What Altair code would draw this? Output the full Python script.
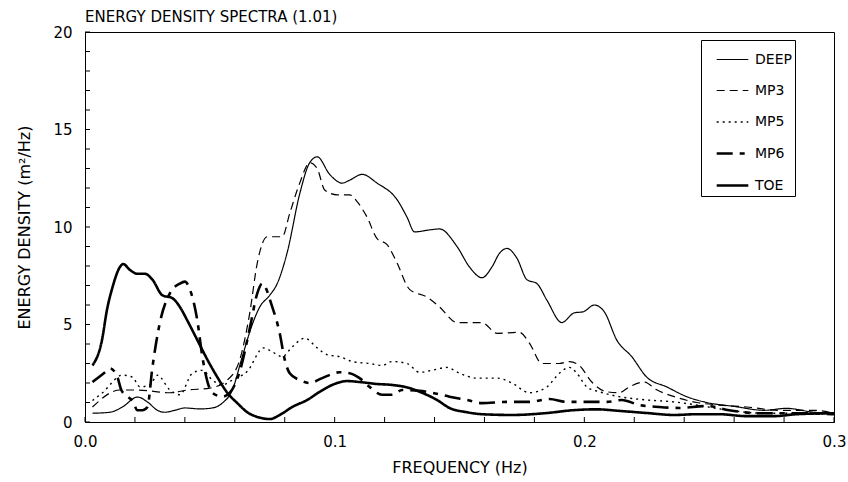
import altair as alt
import pandas as pd

FONT = "DejaVu Sans"

series_names = ["DEEP", "MP3", "MP5", "MP6", "TOE"]

deep_f = [0.003, 0.010, 0.015, 0.021, 0.025, 0.029, 0.032, 0.036, 0.040, 0.046, 0.051, 0.055, 0.059, 0.063,
          0.067, 0.070, 0.074, 0.077, 0.081, 0.086, 0.090, 0.093, 0.098, 0.103, 0.106, 0.111, 0.117, 0.125,
          0.129, 0.132, 0.138, 0.142, 0.149, 0.154, 0.159, 0.163, 0.166, 0.169, 0.173, 0.177, 0.181, 0.185,
          0.191, 0.196, 0.1995, 0.204, 0.208, 0.213, 0.219, 0.225, 0.233, 0.241, 0.249, 0.260, 0.272, 0.281,
          0.292, 0.300]
deep_v = [0.45, 0.5, 0.77, 1.28, 1.03, 0.6, 0.5, 0.6, 0.72, 0.67, 0.72, 0.97, 1.64, 3.35,
          5.0, 5.9, 6.5, 7.1, 8.7, 11.7, 13.3, 13.6, 12.7, 12.25, 12.4, 12.7, 12.25, 11.4,
          10.5, 9.75, 9.85, 9.9, 9.0, 7.95, 7.4, 7.95, 8.65, 8.9, 8.4, 7.3, 7.1, 6.25,
          5.1, 5.6, 5.65, 6.0, 5.65, 4.2, 3.35, 2.3, 1.8, 1.3, 1.0, 0.8, 0.6, 0.7,
          0.5, 0.45]

mp3_f = [0.003, 0.014, 0.021, 0.034, 0.041, 0.050, 0.057, 0.062, 0.066, 0.069, 0.073, 0.079, 0.082, 0.086,
         0.090, 0.093, 0.096, 0.101, 0.106, 0.109, 0.113, 0.117, 0.121, 0.125, 0.130, 0.137, 0.142, 0.149,
         0.159, 0.165, 0.174, 0.178, 0.183, 0.190, 0.194, 0.198, 0.203, 0.209, 0.214, 0.218, 0.224, 0.229,
         0.236, 0.245, 0.254, 0.265, 0.278, 0.292, 0.300]
mp3_v = [0.77, 1.64, 1.64, 1.5, 1.64, 1.74, 2.15, 3.2, 5.6, 8.15, 9.5, 9.5, 10.7, 12.25,
         13.3, 13.0, 11.9, 11.65, 11.65, 11.3, 10.5, 9.4, 9.1, 8.15, 6.8, 6.4, 5.9, 5.1,
         5.1, 4.55, 4.6, 4.05, 3.0, 3.0, 3.1, 2.9, 2.05, 1.55, 1.5, 1.8, 2.05, 1.65,
         1.3, 1.0, 0.87, 0.77, 0.6, 0.6, 0.45]

mp5_f = [0.003, 0.007, 0.015, 0.019, 0.022, 0.026, 0.029, 0.034, 0.038, 0.043, 0.047, 0.051, 0.055, 0.059,
         0.065, 0.0715, 0.075, 0.079, 0.083, 0.088, 0.093, 0.097, 0.102, 0.107, 0.114, 0.119, 0.123, 0.129,
         0.134, 0.139, 0.145, 0.150, 0.157, 0.165, 0.171, 0.178, 0.185, 0.190, 0.194, 0.197, 0.201, 0.206,
         0.214, 0.225, 0.236, 0.245, 0.258, 0.272, 0.285, 0.300]
mp5_v = [1.1, 1.5, 2.4, 2.3, 1.8, 1.9, 2.4, 1.64, 1.4, 2.5, 2.65, 2.15, 1.9, 2.15,
         2.6, 3.8, 3.6, 3.35, 3.85, 4.3, 3.8, 3.45, 3.35, 3.1, 3.0, 2.9, 3.1, 3.0,
         2.55, 2.65, 2.8, 2.5, 2.25, 2.25, 2.0, 1.5, 1.8, 2.5, 2.8, 2.5, 1.8, 1.55,
         1.3, 1.13, 1.03, 0.87, 0.6, 0.45, 0.45, 0.4]

mp6_f = [0.003, 0.009, 0.010, 0.013, 0.0145, 0.017, 0.019, 0.021, 0.023, 0.025, 0.027, 0.030, 0.034, 0.038,
         0.040, 0.042, 0.045, 0.047, 0.051, 0.055, 0.058, 0.062, 0.066, 0.069, 0.071, 0.075, 0.078, 0.080,
         0.082, 0.086, 0.090, 0.095, 0.102, 0.106, 0.110, 0.114, 0.119, 0.123, 0.127, 0.134, 0.139, 0.146,
         0.153, 0.159, 0.169, 0.178, 0.186, 0.193, 0.201, 0.209, 0.215, 0.222, 0.230, 0.238, 0.249, 0.258,
         0.270, 0.285, 0.300]
mp6_v = [2.05, 2.65, 2.75, 2.3, 1.65, 1.3, 1.1, 0.6, 0.6, 0.77, 2.8, 5.1, 6.6, 7.1,
         7.2, 6.8, 5.2, 3.35, 1.5, 1.3, 1.5, 2.6, 4.8, 6.6, 7.1, 5.9, 4.55, 3.2,
         2.5, 2.15, 2.0, 2.25, 2.55, 2.5, 2.25, 1.8, 1.4, 1.4, 1.64, 1.6, 1.5, 1.3,
         1.13, 0.97, 1.03, 1.03, 1.18, 1.03, 1.03, 1.03, 1.13, 0.87, 0.77, 0.72, 0.82, 0.6,
         0.45, 0.45, 0.4]

toe_f = [0.003, 0.0068, 0.0088, 0.011, 0.014, 0.0153, 0.018, 0.021, 0.024, 0.027, 0.031, 0.035, 0.038, 0.041,
         0.045, 0.049, 0.053, 0.057, 0.061, 0.065, 0.069, 0.074, 0.078, 0.083, 0.089, 0.094, 0.099, 0.105,
         0.110, 0.117, 0.123, 0.130, 0.135, 0.141, 0.146, 0.153, 0.159, 0.171, 0.185, 0.195, 0.205, 0.214,
         0.225, 0.236, 0.245, 0.254, 0.265, 0.276, 0.285, 0.300]
toe_v = [2.9, 4.2, 5.75, 6.9, 7.95, 8.1, 7.8, 7.6, 7.6, 7.3, 6.5, 6.35, 5.9, 5.2,
         4.2, 3.2, 2.3, 1.5, 0.97, 0.5, 0.26, 0.15, 0.36, 0.77, 1.13, 1.55, 1.9, 2.1,
         2.05, 1.95, 1.9, 1.74, 1.5, 1.13, 0.72, 0.5, 0.4, 0.36, 0.46, 0.6, 0.65, 0.57,
         0.46, 0.36, 0.4, 0.4, 0.3, 0.3, 0.4, 0.45]

x_label_values = [0.0, 0.1, 0.2, 0.3]
y_label_values = [0, 5, 10, 15, 20]
x_tick_values = [round(i * 0.02, 2) for i in range(16)]
y_tick_values = list(range(21))

rows = []
for name, fs, vs in [("DEEP", deep_f, deep_v), ("MP3", mp3_f, mp3_v), ("MP5", mp5_f, mp5_v),
                     ("MP6", mp6_f, mp6_v), ("TOE", toe_f, toe_v)]:
    for f, v in zip(fs, vs):
        rows.append({"series": name, "freq": f, "density": v})
df = pd.DataFrame(rows)

dash_range = [[1, 0], [8, 5], [2, 4], [16, 7, 5, 7], [1, 0]]
width_range = [1.2, 1.2, 1.4, 2.6, 2.6]

W, H = 749, 390

x_scale = alt.Scale(domain=[0, 0.3], nice=False, zero=False)
y_scale = alt.Scale(domain=[0, 20], nice=False)

legend = alt.Legend(title=None, orient="none", legendX=616, legendY=8,
                    symbolType="stroke", symbolSize=1000, symbolStrokeColor="black", symbolOffset=11,
                    labelFont=FONT, labelFontSize=14, labelColor="black", labelOffset=5,
                    labelExpr="datum.label + '      '",
                    strokeColor="black", fillColor="white", padding=3, rowPadding=7)

lines = alt.Chart(df).mark_line(color="black", interpolate="monotone").encode(
    x=alt.X("freq:Q", scale=x_scale,
            axis=alt.Axis(values=x_label_values, ticks=False, labelFlush=False, format=".1f",
                          title="FREQUENCY (Hz)", titlePadding=10, labelPadding=12)),
    y=alt.Y("density:Q", scale=y_scale,
            axis=alt.Axis(values=y_label_values, ticks=False,
                          title="ENERGY DENSITY (m²/Hz)", titlePadding=20, labelPadding=13)),
    strokeDash=alt.StrokeDash("series:N", scale=alt.Scale(domain=series_names, range=dash_range), legend=legend),
    strokeWidth=alt.StrokeWidth("series:N", scale=alt.Scale(type="ordinal", domain=series_names, range=width_range),
                                legend=legend),
)

xt = pd.DataFrame({"freq": x_tick_values})
yt = pd.DataFrame({"density": y_tick_values})

x_ticks = alt.Chart(xt).mark_rule(color="black", strokeWidth=1).encode(
    x=alt.X("freq:Q", scale=x_scale),
    y=alt.value(H), y2=alt.value(H - 5),
)
y_ticks = alt.Chart(yt).mark_rule(color="black", strokeWidth=1).encode(
    y=alt.Y("density:Q", scale=y_scale),
    x=alt.value(0), x2=alt.value(5),
)

chart = alt.layer(lines, x_ticks, y_ticks).properties(
    width=W, height=H, background="white",
    title=alt.TitleParams("ENERGY DENSITY SPECTRA (1.01)", anchor="start", frame="group",
                          font=FONT, fontSize=15, fontWeight="normal", color="black", offset=0),
    autosize=alt.AutoSizeParams(type="none"),
    padding={"left": 85, "top": 32, "right": 14, "bottom": 60},
).configure_view(
    stroke="black", strokeWidth=1
).configure_axis(
    domainColor="black", domainWidth=1, grid=False, labelOverlap=False,
    labelFont=FONT, labelFontSize=15, labelColor="black",
    titleFont=FONT, titleFontSize=16, titleFontWeight="normal", titleColor="black",
)

chart.save("out.html", embed_options={"renderer": "svg", "actions": False})
